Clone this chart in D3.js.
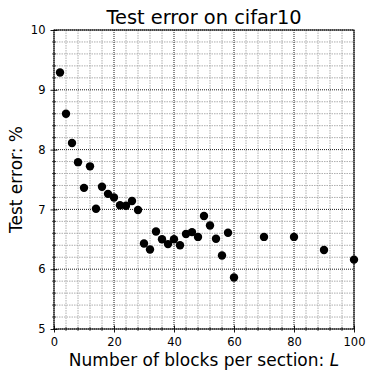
<!DOCTYPE html>
<meta charset="utf-8">
<head>
    <script src="https://d3js.org/d3.v7.min.js"></script>
</head>
<body style="margin:0;background:#fff">
<div id="chart"></div>
<style>
    body { font-family: 'DejaVu Sans', sans-serif; }
    svg text { font-family: 'DejaVu Sans', sans-serif; }
</style>
<script>
    // data
    var blocks = [2, 4, 6, 8, 10, 12, 14, 16, 18, 20, 22, 24, 26, 28, 30, 32, 34, 36, 38, 40,
                  42, 44, 46, 48, 50, 52, 54, 56, 58, 60, 70, 80, 90, 100];
    var testError = [9.29, 8.6, 8.11, 7.79, 7.36, 7.72, 7.01, 7.38, 7.26, 7.2, 7.07, 7.06, 7.14, 6.99,
                     6.43, 6.33, 6.63, 6.5, 6.42, 6.5, 6.4, 6.59, 6.62, 6.54, 6.89, 6.73, 6.51, 6.23,
                     6.61, 5.86, 6.54, 6.54, 6.32, 6.16];
    var xTicks = [0, 20, 40, 60, 80, 100];
    var yTicks = [5, 6, 7, 8, 9, 10];

    var margin = {top: 30, right: 20, bottom: 52, left: 54},
        width = 374 - margin.left - margin.right,
        height = 381 - margin.top - margin.bottom;

    var svg = d3.select("#chart")
        .append("svg")
        .attr("width", 374)
        .attr("height", 381)
        .append("g")
        .attr("transform", "translate(" + margin.left + "," + margin.top + ")");

    var x = d3.scaleLinear().domain([0, 100]).range([0, width]);
    var y = d3.scaleLinear().domain([5, 10]).range([height, 0]);

    var xMinor = d3.range(0, 101, 4).filter(function (v) { return v % 20 != 0; });
    var yMinor = d3.range(50, 101, 2).map(function (v) { return v / 10; })
        .filter(function (v) { return Math.abs(v - Math.round(v)) > 0.01; });

    // minor grid
    svg.selectAll(".gxm").data(xMinor).enter().append("line")
        .attr("x1", function (d) { return x(d); }).attr("x2", function (d) { return x(d); })
        .attr("y1", 0).attr("y2", height)
        .attr("stroke", "#999").attr("stroke-width", 0.8).attr("stroke-dasharray", "1.5,1");
    svg.selectAll(".gym").data(yMinor).enter().append("line")
        .attr("y1", function (d) { return y(d); }).attr("y2", function (d) { return y(d); })
        .attr("x1", 0).attr("x2", width)
        .attr("stroke", "#999").attr("stroke-width", 0.8).attr("stroke-dasharray", "1.5,1");

    // major grid
    svg.selectAll(".gx").data(xTicks).enter().append("line")
        .attr("x1", function (d) { return x(d); }).attr("x2", function (d) { return x(d); })
        .attr("y1", 0).attr("y2", height)
        .attr("stroke", "#000").attr("stroke-width", 0.9).attr("stroke-dasharray", "1,1");
    svg.selectAll(".gy").data(yTicks).enter().append("line")
        .attr("y1", function (d) { return y(d); }).attr("y2", function (d) { return y(d); })
        .attr("x1", 0).attr("x2", width)
        .attr("stroke", "#000").attr("stroke-width", 0.9).attr("stroke-dasharray", "1,1");

    // axes, ticks cross the spine
    var xAxis = svg.append("g")
        .attr("transform", "translate(0," + height + ")")
        .call(d3.axisBottom(x).tickValues(xTicks).tickSize(3.5).tickPadding(5));
    var yAxis = svg.append("g")
        .call(d3.axisLeft(y).tickValues(yTicks).tickSize(3.5).tickPadding(5).tickFormat(d3.format("d")));
    [xAxis, yAxis].forEach(function (g) {
        g.select(".domain").remove();
        g.selectAll("text").style("font-family", "DejaVu Sans").style("font-size", "11.5px").attr("fill", "#000");
        g.selectAll(".tick line").attr("stroke", "#000").attr("stroke-width", 0.9);
    });
    xAxis.selectAll(".tick line").attr("y1", -3.5);
    yAxis.selectAll(".tick line").attr("x1", 3.5);

    svg.selectAll(".mtx").data(xMinor).enter().append("line")
        .attr("x1", function (d) { return x(d); }).attr("x2", function (d) { return x(d); })
        .attr("y1", height - 2).attr("y2", height + 2)
        .attr("stroke", "#000").attr("stroke-width", 0.7);
    svg.selectAll(".mty").data(yMinor).enter().append("line")
        .attr("y1", function (d) { return y(d); }).attr("y2", function (d) { return y(d); })
        .attr("x1", -2).attr("x2", 2)
        .attr("stroke", "#000").attr("stroke-width", 0.7);

    // frame
    svg.append("rect")
        .attr("width", width).attr("height", height)
        .attr("fill", "none").attr("stroke", "#000").attr("stroke-width", 1);

    // points
    svg.selectAll(".pt").data(blocks).enter().append("circle")
        .attr("cx", function (d) { return x(d); })
        .attr("cy", function (d, i) { return y(testError[i]); })
        .attr("r", 4.2)
        .attr("fill", "#000");

    // labels
    svg.append("text")
        .attr("x", width / 2).attr("y", -6)
        .attr("text-anchor", "middle")
        .style("font-size", "19.4px")
        .text("Test error on cifar10");

    var xl = svg.append("text")
        .attr("x", width / 2).attr("y", height + 37)
        .attr("text-anchor", "middle")
        .style("font-size", "17px");
    xl.append("tspan").text("Number of blocks per section: ");
    xl.append("tspan").style("font-style", "italic").text("L");

    svg.append("text")
        .attr("transform", "translate(-32," + height / 2 + ") rotate(-90)")
        .attr("text-anchor", "middle")
        .style("font-size", "17px")
        .text("Test error: %");
</script>
</body>
